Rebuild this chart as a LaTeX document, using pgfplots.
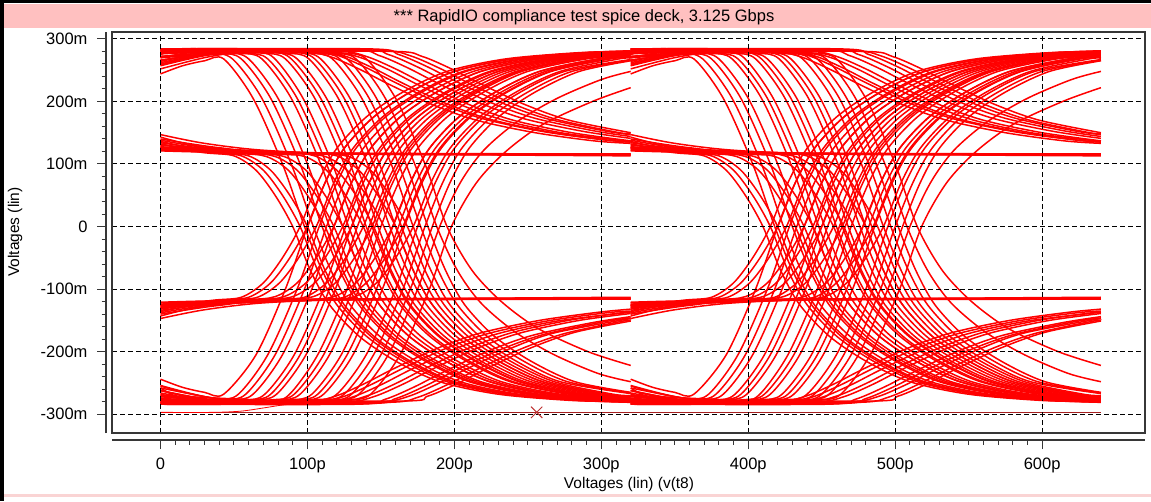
\documentclass[border=0pt]{standalone}
\usepackage{fontspec}
\setmainfont{Liberation Sans}
\usepackage{pgfplots}
\pgfplotsset{compat=1.18}
\definecolor{titlepink}{RGB}{255,192,192}
\definecolor{botpink}{RGB}{250,212,212}
\definecolor{trred}{RGB}{255,0,0}
\definecolor{cursor}{RGB}{165,30,30}
\definecolor{axgray}{RGB}{55,55,55}
\pgfplotsset{tr/.style={trred, line width=1.5pt, smooth, tension=0.5, no markers}}
\newcommand\T[2]{\addplot[tr,#1] coordinates {#2};}
\newcommand\eye[1]{%
% rising edges L1 -> H1
\T{#1}{(0,-244)(15,-257)(30,-265)(43,-268)(65,-205)(85,-100)(100,0)(112,70)(125,125)(145,175)(170,215)(200,248)(240,268)(290,278)(320,281)}
\T{#1}{(0,-275)(8,-280)(38,-277)(53,-268)(73,-205)(93,-100)(108,0)(120,70)(133,125)(153,175)(178,215)(208,248)(248,268)(298,278)(320,280)}
\T{#1}{(0,-280)(13,-280)(43,-277)(58,-268)(78,-205)(98,-100)(113,0)(125,70)(138,125)(158,175)(183,215)(213,248)(253,268)(303,278)(320,279)}
\T{#1}{(0,-258)(18,-278)(48,-277)(63,-268)(83,-205)(103,-100)(118,0)(130,70)(143,125)(163,175)(188,215)(218,248)(258,268)(308,278)(320,279)}
\T{#1}{(0,-281)(26,-281)(56,-278)(71,-268)(91,-205)(111,-100)(126,0)(138,70)(151,125)(171,175)(196,215)(226,248)(266,268)(320,278)}
\T{#1}{(0,-268)(30,-280)(60,-277)(75,-268)(95,-205)(115,-100)(130,0)(142,70)(155,125)(175,175)(200,215)(230,248)(270,268)(320,277)}
\T{#1}{(0,-266)(34,-279)(64,-277)(79,-268)(99,-205)(119,-100)(134,0)(146,70)(159,125)(179,175)(204,215)(234,248)(274,268)(320,277)}
\T{#1}{(0,-284)(42,-284)(72,-280)(87,-270)(107,-205)(127,-100)(142,0)(154,70)(167,125)(187,175)(212,215)(242,248)(282,268)(320,276)}
\T{#1}{(0,-279)(46,-281)(76,-277)(91,-268)(111,-205)(131,-100)(146,0)(158,70)(171,125)(191,175)(216,215)(246,248)(286,268)(320,275)}
\T{#1}{(0,-272)(50,-279)(80,-277)(95,-268)(115,-205)(135,-100)(150,0)(162,70)(175,125)(195,175)(220,215)(250,248)(290,268)(320,274)}
\T{#1}{(0,-262)(30,-276)(58,-280)(88,-277)(103,-268)(123,-205)(143,-100)(158,0)(170,70)(183,125)(203,175)(228,215)(258,248)(298,268)(320,272)}
\T{#1}{(0,-258)(40,-276)(62,-280)(92,-277)(107,-268)(127,-205)(147,-100)(162,0)(174,70)(187,125)(207,175)(232,215)(262,248)(302,268)(320,271)}
\T{#1}{(0,-278)(66,-282)(96,-278)(111,-268)(131,-205)(151,-100)(166,0)(178,70)(191,125)(211,175)(236,215)(266,248)(306,268)(320,271)}
\T{#1}{(0,-254)(35,-274)(75,-280)(105,-277)(120,-268)(140,-205)(160,-100)(175,0)(187,70)(200,125)(220,175)(245,215)(275,248)(320,267)}
\T{#1}{(0,-275)(80,-281)(110,-277)(125,-268)(145,-205)(165,-100)(180,0)(192,70)(205,125)(225,175)(250,215)(280,248)(320,266)}
\T{#1}{(0,-283)(85,-283)(115,-279)(130,-268)(150,-205)(170,-100)(185,0)(197,70)(210,125)(230,175)(255,215)(285,248)(320,265)}
\T{#1}{(0,-282)(90,-281)(120,-277)(135,-268)(155,-205)(175,-100)(190,0)(204,70)(220,122)(243,168)(270,205)(300,235)(320,248)}
\T{#1}{(0,-270)(98,-280)(128,-277)(143,-268)(163,-205)(183,-100)(198,0)(215,70)(235,120)(260,163)(294,200)(320,222)}
% falling edges H1 -> L1
\T{#1}{(0,244)(15,257)(30,265)(43,268)(63,205)(83,100)(98,0)(110,-70)(123,-125)(143,-175)(168,-215)(198,-248)(238,-268)(288,-278)(320,-281)}
\T{#1}{(0,258)(20,270)(34,277)(49,268)(69,205)(89,100)(104,0)(116,-70)(129,-125)(149,-175)(174,-215)(204,-248)(244,-268)(294,-278)(320,-280)}
\T{#1}{(0,275)(10,280)(40,277)(55,268)(75,205)(95,100)(110,0)(122,-70)(135,-125)(155,-175)(180,-215)(210,-248)(250,-268)(300,-278)(320,-279)}
\T{#1}{(0,281)(15,281)(45,278)(60,268)(80,205)(100,100)(115,0)(127,-70)(140,-125)(160,-175)(185,-215)(215,-248)(255,-268)(305,-278)(320,-279)}
\T{#1}{(0,270)(24,279)(54,277)(69,268)(89,205)(109,100)(124,0)(136,-70)(149,-125)(169,-175)(194,-215)(224,-248)(264,-268)(320,-278)}
\T{#1}{(0,280)(28,281)(58,277)(73,268)(93,205)(113,100)(128,0)(140,-70)(153,-125)(173,-175)(198,-215)(228,-248)(268,-268)(320,-277)}
\T{#1}{(0,284)(32,284)(62,280)(77,270)(97,205)(117,100)(132,0)(144,-70)(157,-125)(177,-175)(202,-215)(232,-248)(272,-268)(320,-277)}
\T{#1}{(0,262)(40,279)(70,277)(85,268)(105,205)(125,100)(140,0)(152,-70)(165,-125)(185,-175)(210,-215)(240,-248)(280,-268)(320,-276)}
\T{#1}{(0,257)(35,275)(74,279)(89,268)(109,205)(129,100)(144,0)(156,-70)(169,-125)(189,-175)(214,-215)(244,-248)(284,-268)(320,-275)}
\T{#1}{(0,276)(48,281)(78,278)(93,268)(113,205)(133,100)(148,0)(160,-70)(173,-125)(193,-175)(218,-215)(248,-248)(288,-268)(320,-274)}
\T{#1}{(0,252)(30,270)(56,279)(86,277)(101,268)(121,205)(141,100)(156,0)(168,-70)(181,-125)(201,-175)(226,-215)(256,-248)(296,-268)(320,-272)}
\T{#1}{(0,284)(60,284)(90,279)(105,268)(125,205)(145,100)(160,0)(172,-70)(185,-125)(205,-175)(230,-215)(260,-248)(300,-268)(320,-271)}
\T{#1}{(0,283)(64,283)(94,279)(109,268)(129,205)(149,100)(164,0)(176,-70)(189,-125)(209,-175)(234,-215)(264,-248)(304,-268)(320,-271)}
\T{#1}{(0,266)(40,278)(72,280)(102,277)(117,268)(137,205)(157,100)(172,0)(184,-70)(197,-125)(217,-175)(242,-215)(272,-248)(320,-267)}
\T{#1}{(0,270)(77,281)(107,277)(122,268)(142,205)(162,100)(177,0)(189,-70)(202,-125)(222,-175)(247,-215)(277,-248)(320,-266)}
\T{#1}{(0,279)(82,281)(112,277)(127,268)(147,205)(167,100)(182,0)(194,-70)(207,-125)(227,-175)(252,-215)(282,-248)(320,-265)}
\T{#1}{(0,278)(88,281)(118,277)(133,268)(153,205)(173,100)(188,0)(202,-70)(218,-122)(241,-168)(268,-205)(298,-235)(320,-248)}
\T{#1}{(0,272)(95,280)(125,277)(140,268)(160,205)(180,100)(195,0)(212,-70)(232,-120)(257,-163)(291,-200)(320,-222)}
% H2 -> L1
\T{#1}{(0,128)(30,118)(50,113)(65,90)(78,50)(90,0)(102,-70)(115,-125)(135,-175)(160,-215)(190,-248)(230,-268)(280,-278)(320,-280)}
\T{#1}{(0,132)(35,118)(55,113)(70,90)(83,50)(95,0)(107,-70)(120,-125)(140,-175)(165,-215)(195,-248)(235,-268)(285,-278)(320,-280)}
\T{#1}{(0,136)(20,126)(40,118)(60,113)(75,90)(88,50)(100,0)(112,-70)(125,-125)(145,-175)(170,-215)(200,-248)(240,-268)(290,-278)(320,-279)}
\T{#1}{(0,124)(52,117)(72,112)(87,90)(100,50)(112,0)(124,-70)(137,-125)(157,-175)(182,-215)(212,-248)(252,-268)(302,-278)(320,-279)}
\T{#1}{(0,122)(58,117)(78,112)(93,90)(106,50)(118,0)(130,-70)(143,-125)(163,-175)(188,-215)(218,-248)(258,-268)(308,-278)(320,-279)}
\T{#1}{(0,131)(30,122)(64,117)(84,112)(99,90)(112,50)(124,0)(136,-70)(149,-125)(169,-175)(194,-215)(224,-248)(264,-268)(320,-278)}
\T{#1}{(0,127)(78,116)(98,112)(113,90)(126,50)(138,0)(150,-70)(163,-125)(183,-175)(208,-215)(238,-248)(278,-268)(320,-276)}
\T{#1}{(0,143)(30,127)(85,118)(105,113)(120,90)(133,50)(145,0)(157,-70)(170,-125)(190,-175)(215,-215)(245,-248)(285,-268)(320,-275)}
\T{#1}{(0,138)(25,128)(60,120)(92,117)(112,112)(127,90)(140,50)(152,0)(164,-70)(177,-125)(197,-175)(222,-215)(252,-248)(292,-268)(320,-273)}
\T{#1}{(0,126)(100,118)(120,113)(135,90)(148,50)(160,0)(172,-70)(185,-125)(205,-175)(230,-215)(260,-248)(300,-268)(320,-272)}
\T{#1}{(0,125)(108,116)(128,112)(143,90)(156,50)(168,0)(180,-70)(193,-125)(213,-175)(238,-215)(268,-248)(308,-268)(320,-270)}
% L2 -> H1
\T{#1}{(0,-130)(35,-118)(55,-113)(70,-90)(83,-50)(95,0)(107,70)(120,125)(140,175)(165,215)(195,248)(235,268)(285,278)(320,280)}
\T{#1}{(0,-128)(40,-118)(60,-113)(75,-90)(88,-50)(100,0)(112,70)(125,125)(145,175)(170,215)(200,248)(240,268)(290,278)(320,280)}
\T{#1}{(0,-136)(22,-126)(46,-118)(66,-113)(81,-90)(94,-50)(106,0)(118,70)(131,125)(151,175)(176,215)(206,248)(246,268)(296,278)(320,279)}
\T{#1}{(0,-124)(58,-117)(78,-112)(93,-90)(106,-50)(118,0)(130,70)(143,125)(163,175)(188,215)(218,248)(258,268)(308,278)(320,279)}
\T{#1}{(0,-122)(64,-117)(84,-112)(99,-90)(112,-50)(124,0)(136,70)(149,125)(169,175)(194,215)(224,248)(264,268)(320,278)}
\T{#1}{(0,-132)(30,-123)(70,-117)(90,-112)(105,-90)(118,-50)(130,0)(142,70)(155,125)(175,175)(200,215)(230,248)(270,268)(320,277)}
\T{#1}{(0,-143)(30,-127)(78,-118)(98,-113)(113,-90)(126,-50)(138,0)(150,70)(163,125)(183,175)(208,215)(238,248)(278,268)(320,276)}
\T{#1}{(0,-127)(84,-116)(104,-112)(119,-90)(132,-50)(144,0)(156,70)(169,125)(189,175)(214,215)(244,248)(284,268)(320,275)}
\T{#1}{(0,-138)(25,-128)(60,-120)(98,-117)(118,-112)(133,-90)(146,-50)(158,0)(170,70)(183,125)(203,175)(228,215)(258,248)(298,268)(320,272)}
\T{#1}{(0,-126)(105,-118)(125,-113)(140,-90)(153,-50)(165,0)(177,70)(190,125)(210,175)(235,215)(265,248)(305,268)(320,271)}
\T{#1}{(0,-125)(112,-116)(132,-112)(147,-90)(160,-50)(172,0)(184,70)(197,125)(217,175)(242,215)(272,248)(312,268)(320,269)}
% H1 -> H2 (de-emphasis decay)
\T{#1}{(0,270)(40,280)(95,280)(115,272)(135,252)(155,228)(185,195)(215,170)(255,150)(295,137)(320,133)}
\T{#1}{(0,279)(100,282)(120,274)(140,254)(160,230)(190,197)(220,172)(260,152)(300,139)(320,135)}
\T{#1}{(0,282)(105,281)(125,273)(145,253)(165,229)(195,196)(225,171)(265,151)(305,138)(320,135)}
\T{#1}{(0,260)(30,274)(60,279)(115,279)(135,271)(155,251)(175,227)(205,194)(235,169)(275,149)(320,136)}
\T{#1}{(0,264)(40,279)(120,280)(140,272)(160,252)(180,228)(210,195)(240,170)(280,150)(320,137)}
\T{#1}{(0,277)(128,282)(148,274)(168,254)(188,230)(218,197)(248,172)(288,152)(320,141)}
\T{#1}{(0,283)(135,283)(155,275)(175,255)(195,231)(225,198)(255,173)(295,153)(320,144)}
\T{#1}{(0,284)(142,284)(162,275)(182,255)(202,231)(232,198)(262,173)(302,153)(320,147)}
\T{#1}{(0,272)(60,281)(150,281)(170,273)(190,253)(210,229)(240,196)(270,171)(310,151)(320,148)}
\T{#1}{(0,266)(50,278)(158,280)(178,272)(198,252)(218,228)(248,195)(278,170)(320,150)}
% L1 -> L2
\T{#1}{(0,-262)(35,-278)(98,-280)(118,-272)(138,-252)(158,-228)(188,-195)(218,-170)(258,-150)(298,-137)(320,-132)}
\T{#1}{(0,-277)(103,-281)(123,-273)(143,-253)(163,-229)(193,-196)(223,-171)(263,-151)(303,-138)(320,-135)}
\T{#1}{(0,-281)(110,-281)(130,-273)(150,-253)(170,-229)(200,-196)(230,-171)(270,-151)(320,-137)}
\T{#1}{(0,-270)(40,-279)(120,-279)(140,-271)(160,-251)(180,-227)(210,-194)(240,-169)(280,-149)(320,-136)}
\T{#1}{(0,-262)(45,-279)(125,-280)(145,-272)(165,-252)(185,-228)(215,-195)(245,-170)(285,-150)(320,-139)}
\T{#1}{(0,-284)(133,-284)(153,-276)(173,-256)(193,-232)(223,-199)(253,-174)(293,-154)(320,-144)}
\T{#1}{(0,-283)(140,-283)(160,-275)(180,-255)(200,-231)(230,-198)(260,-173)(300,-153)(320,-146)}
\T{#1}{(0,-255)(30,-272)(70,-280)(148,-280)(168,-272)(188,-252)(208,-228)(238,-195)(268,-170)(320,-147)}
\T{#1}{(0,-272)(60,-281)(155,-281)(175,-273)(195,-253)(215,-229)(245,-196)(275,-171)(315,-151)(320,-150)}
\T{#1}{(0,-276)(162,-279)(182,-271)(202,-251)(222,-227)(252,-194)(282,-169)(320,-151)}
% steady H2 and L2
\T{#1}{(0,126)(60,119)(120,116)(200,115)(320,115)}
\T{#1}{(0,134)(30,125)(70,119)(150,116)(320,116)}
\T{#1}{(0,130)(50,121)(110,117)(320,114)}
\T{#1}{(0,121)(80,117)(320,113)}
\T{#1}{(0,147)(30,133)(70,122)(130,117)(320,115)}
\T{#1}{(0,140)(40,126)(90,118)(320,116)}
\T{#1}{(0,-126)(60,-119)(120,-116)(200,-115)(320,-115)}
\T{#1}{(0,-134)(30,-125)(70,-119)(150,-116)(320,-116)}
\T{#1}{(0,-130)(50,-121)(110,-117)(320,-114)}
\T{#1}{(0,-121)(80,-117)(320,-113)}
\T{#1}{(0,-147)(30,-133)(70,-122)(130,-117)(320,-115)}
\T{#1}{(0,-140)(40,-126)(90,-118)(320,-116)}
}
\begin{document}
\begin{tikzpicture}[x=1pt,y=1pt]
\useasboundingbox (0,0) rectangle (1151,501);
\fill[white] (0,0) rectangle (1151,501);
\fill[titlepink] (3,473) rectangle (1151,497);
\fill[botpink] (3,4) rectangle (1151,7);
\fill[black] (0,0) rectangle (3.5,501);
\fill[black] (0,497.5) rectangle (1151,501);
\node[font=\fontsize{16.5}{19}\selectfont, inner sep=0pt] at (584,484) {*** RapidIO compliance test spice deck, 3.125 Gbps};
\begin{axis}[
  at={(112pt,68pt)}, anchor=south west, scale only axis,
  width=1033pt, height=401pt,
  xmin=-33, xmax=670, ymin=-330, ymax=311,
  axis lines=left, axis line style={-, axgray, line width=1.5pt},
  every outer x axis line/.append style={-},
  every outer y axis line/.append style={-},
  axis x line shift=7pt, axis y line shift=6pt,
  xtick={0,100,...,600}, xticklabels={0,100p,200p,300p,400p,500p,600p},
  ytick={-300,-200,...,300}, yticklabels={-300m,-200m,-100m,0,100m,200m,300m},
  minor x tick num=9, minor y tick num=4,
  tick align=outside, major tick length=9pt, minor tick length=4.5pt,
  tick style={axgray, line width=1pt},
  grid=major, major grid style={black, line width=1pt, dash pattern=on 5pt off 3pt},
  axis on top,
  tick label style={font=\fontsize{16.5}{19}\selectfont},
  xticklabel style={yshift=-5pt},
  yticklabel style={xshift=-6pt},
  clip=true,
]
\eye{}
\eye{x filter/.expression={x+320}}
\addplot[cursor, line width=1.4pt, no markers] coordinates {(0,-297)(640,-297)};
\addplot[trred, line width=0.8pt, smooth, no markers] coordinates {(0,-297)(36,-297)(55,-295)(70,-290)(84,-285)(100,-282)};
\addplot[color={rgb,255:red,190;green,50;blue,50}, only marks, mark=x, mark size=8pt, mark options={line width=1pt}] coordinates {(256,-297)};
\end{axis}
\draw[axgray, line width=1.5pt] (112,68) rectangle (1145,469);
\node[font=\fontsize{15.5}{18}\selectfont] at (629,17) {Voltages (lin) (v(t8)};
\node[font=\fontsize{15.5}{18}\selectfont, rotate=90] at (15,269) {Voltages (lin)};
\end{tikzpicture}
\end{document}
